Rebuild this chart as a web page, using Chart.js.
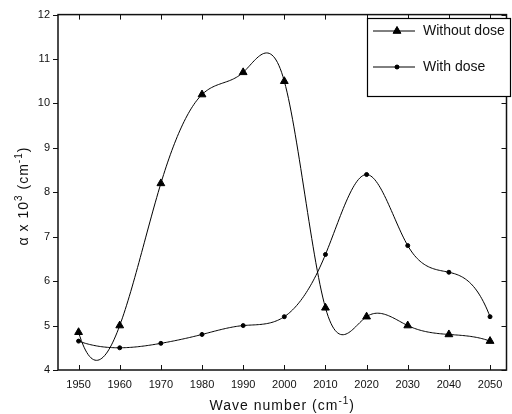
<!DOCTYPE html>
<html>
  <head>
    <title>Absorption</title>
    <script src="https://cdn.jsdelivr.net/npm/chart.js"></script>
    <style>
      body { margin: 0; background: #fff; }
    </style>
  </head>

  <body>
    <canvas id="absorcao" width="512" height="414"></canvas>

    <script>
      // wave numbers and measured values
      var waveNumbers = [1950, 1960, 1970, 1980, 1990, 2000, 2010, 2020, 2030, 2040, 2050];
      var withoutDose = [4.85, 5.0, 8.2, 10.2, 10.7, 10.5, 5.4, 5.2, 5.0, 4.8, 4.65];
      var withDose = [4.65, 4.5, 4.6, 4.8, 5.0, 5.2, 6.6, 8.4, 6.8, 6.2, 5.2];

      var xTicks = [1950, 1960, 1970, 1980, 1990, 2000, 2010, 2020, 2030, 2040, 2050];
      var yTicks = [4, 5, 6, 7, 8, 9, 10, 11, 12];

      var FONT = "'Liberation Sans', Arial, sans-serif";

      function toPoints(ys) {
        return waveNumbers.map((x, i) => ({ x: x, y: ys[i] }));
      }

      // not-a-knot cubic spline, returns second derivatives
      function splineM(xs, ys) {
        var n = xs.length;
        var h = [];
        for (var i = 0; i < n - 1; i++) h.push(xs[i + 1] - xs[i]);
        var A = [];
        var b = [];
        for (var r = 0; r < n; r++) {
          A.push(new Array(n).fill(0));
          b.push(0);
        }
        A[0][0] = -h[1];
        A[0][1] = h[0] + h[1];
        A[0][2] = -h[0];
        for (var i = 1; i < n - 1; i++) {
          A[i][i - 1] = h[i - 1];
          A[i][i] = 2 * (h[i - 1] + h[i]);
          A[i][i + 1] = h[i];
          b[i] = 6 * ((ys[i + 1] - ys[i]) / h[i] - (ys[i] - ys[i - 1]) / h[i - 1]);
        }
        A[n - 1][n - 3] = -h[n - 2];
        A[n - 1][n - 2] = h[n - 3] + h[n - 2];
        A[n - 1][n - 1] = -h[n - 3];

        // gaussian elimination
        for (var c = 0; c < n; c++) {
          var p = c;
          for (var r = c + 1; r < n; r++) {
            if (Math.abs(A[r][c]) > Math.abs(A[p][c])) p = r;
          }
          [A[c], A[p]] = [A[p], A[c]];
          [b[c], b[p]] = [b[p], b[c]];
          for (var r = c + 1; r < n; r++) {
            var f = A[r][c] / A[c][c];
            for (var k = c; k < n; k++) A[r][k] -= f * A[c][k];
            b[r] -= f * b[c];
          }
        }
        var M = new Array(n).fill(0);
        for (var r = n - 1; r >= 0; r--) {
          var s = b[r];
          for (var k = r + 1; k < n; k++) s -= A[r][k] * M[k];
          M[r] = s / A[r][r];
        }
        return M;
      }

      function drawText(ctx, parts, x, y) {
        var total = 0;
        parts.forEach((p) => {
          ctx.font = (p.sup ? "10px " : "14px ") + FONT;
          p.w = ctx.measureText(p.t).width;
          total += p.w;
        });
        var cx = x - total / 2;
        parts.forEach((p) => {
          ctx.font = (p.sup ? "10px " : "14px ") + FONT;
          ctx.fillText(p.t, cx, p.sup ? y - 6 : y);
          cx += p.w;
        });
      }

      var curvas = {
        id: "curvas",
        beforeDatasetsDraw(chart) {
          var ctx = chart.ctx;
          var xs = chart.scales.x;
          var ys = chart.scales.y;
          ctx.save();
          ctx.strokeStyle = "#000";
          ctx.lineWidth = 1;
          chart.data.datasets.forEach((ds) => {
            var px = ds.data.map((d) => d.x);
            var py = ds.data.map((d) => d.y);
            var M = splineM(px, py);
            ctx.beginPath();
            ctx.moveTo(xs.getPixelForValue(px[0]), ys.getPixelForValue(py[0]));
            for (var i = 0; i < px.length - 1; i++) {
              var h = px[i + 1] - px[i];
              for (var s = 1; s <= 30; s++) {
                var x = px[i] + (h * s) / 30;
                var a = (px[i + 1] - x) / h;
                var bb = (x - px[i]) / h;
                var y = a * py[i] + bb * py[i + 1] +
                  ((a * a * a - a) * M[i] + (bb * bb * bb - bb) * M[i + 1]) * h * h / 6;
                ctx.lineTo(xs.getPixelForValue(x), ys.getPixelForValue(y));
              }
            }
            ctx.stroke();
          });
          ctx.restore();
        },
        afterDatasetsDraw(chart) {
          var ctx = chart.ctx;
          var area = chart.chartArea;
          var xs = chart.scales.x;
          var ys = chart.scales.y;
          ctx.save();

          // axes box and tick marks
          ctx.strokeStyle = "#111";
          ctx.lineWidth = 1.5;
          ctx.strokeRect(area.left, area.top, area.right - area.left, area.bottom - area.top);
          ctx.lineWidth = 1;
          ctx.beginPath();
          xTicks.forEach((v) => {
            var x = Math.round(xs.getPixelForValue(v)) + 0.5;
            ctx.moveTo(x, area.bottom);
            ctx.lineTo(x, area.bottom - 5);
            ctx.moveTo(x, area.top);
            ctx.lineTo(x, area.top + 5);
          });
          yTicks.forEach((v) => {
            var y = Math.round(ys.getPixelForValue(v)) + 0.5;
            ctx.moveTo(area.left, y);
            ctx.lineTo(area.left - 5, y);
            ctx.moveTo(area.right, y);
            ctx.lineTo(area.right - 5, y);
          });
          ctx.stroke();

          // legend
          var lx = 367, ly = 18, lw = 143, lh = 78;
          ctx.fillStyle = "#fff";
          ctx.fillRect(lx, ly, lw, lh);
          ctx.strokeStyle = "#000";
          ctx.lineWidth = 1.2;
          ctx.strokeRect(lx + 0.5, ly + 0.5, lw, lh);
          chart.data.datasets.forEach((ds, i) => {
            var y = ly + 13 + i * 36;
            ctx.strokeStyle = "#000";
            ctx.lineWidth = 1;
            ctx.beginPath();
            ctx.moveTo(lx + 6, y);
            ctx.lineTo(lx + 48, y);
            ctx.stroke();
            ctx.fillStyle = "#000";
            Chart.helpers.drawPoint(ctx, {
              pointStyle: ds.pointStyle,
              radius: ds.pointRadius,
              borderWidth: 1,
              rotation: 0,
            }, lx + 30, y);
            ctx.fill();
            ctx.font = "14px " + FONT;
            ctx.textBaseline = "middle";
            ctx.textAlign = "left";
            ctx.fillStyle = "#111";
            ctx.fillText(ds.label, lx + 56, y);
          });

          // axis titles
          ctx.fillStyle = "#111";
          ctx.textBaseline = "alphabetic";
          ctx.textAlign = "left";
          ctx.letterSpacing = "1px";
          drawText(ctx, [{ t: "Wave number (cm" }, { t: "-1", sup: true }, { t: ")" }], (area.left + area.right) / 2, 410);
          ctx.translate(28, 196);
          ctx.rotate(-Math.PI / 2);
          drawText(ctx, [{ t: "\u03b1 x 10" }, { t: "3", sup: true }, { t: " (cm" }, { t: "-1", sup: true }, { t: ")" }], 0, 0);
          ctx.restore();
        },
      };

      var grafico = new Chart(document.getElementById("absorcao").getContext("2d"), {
        type: "line",
        data: {
          datasets: [
            {
              label: "Without dose",
              data: toPoints(withoutDose),
              showLine: false,
              pointStyle: "triangle",
              pointRadius: 4.5,
              pointBackgroundColor: "#000",
              pointBorderColor: "#000",
              pointBorderWidth: 1,
            },
            {
              label: "With dose",
              data: toPoints(withDose),
              showLine: false,
              pointStyle: "circle",
              pointRadius: 2,
              pointBackgroundColor: "#000",
              pointBorderColor: "#000",
              pointBorderWidth: 1,
            },
          ],
        },
        options: {
          responsive: false,
          animation: false,
          devicePixelRatio: 1,
          layout: { padding: { top: 13, right: 2, left: 0, bottom: 0 } },
          plugins: {
            legend: { display: false },
            tooltip: { enabled: false },
          },
          scales: {
            x: {
              type: "linear",
              min: 1945,
              max: 2054,
              grid: { display: false, drawTicks: false },
              border: { display: false },
              afterBuildTicks: (s) => { s.ticks = xTicks.map((v) => ({ value: v })); },
              afterFit: (s) => { s.height = 44; },
              ticks: {
                padding: 8,
                maxRotation: 0,
                autoSkip: false,
                color: "#111",
                font: { family: FONT, size: 11 },
                callback: (v) => String(v),
              },
            },
            y: {
              min: 4,
              max: 12,
              grid: { display: false, drawTicks: false },
              border: { display: false },
              afterBuildTicks: (s) => { s.ticks = yTicks.map((v) => ({ value: v })); },
              afterFit: (s) => { s.width = 58; },
              ticks: {
                padding: 8,
                color: "#111",
                font: { family: FONT, size: 11 },
              },
            },
          },
        },
        plugins: [curvas],
      });
    </script>
  </body>
</html>
